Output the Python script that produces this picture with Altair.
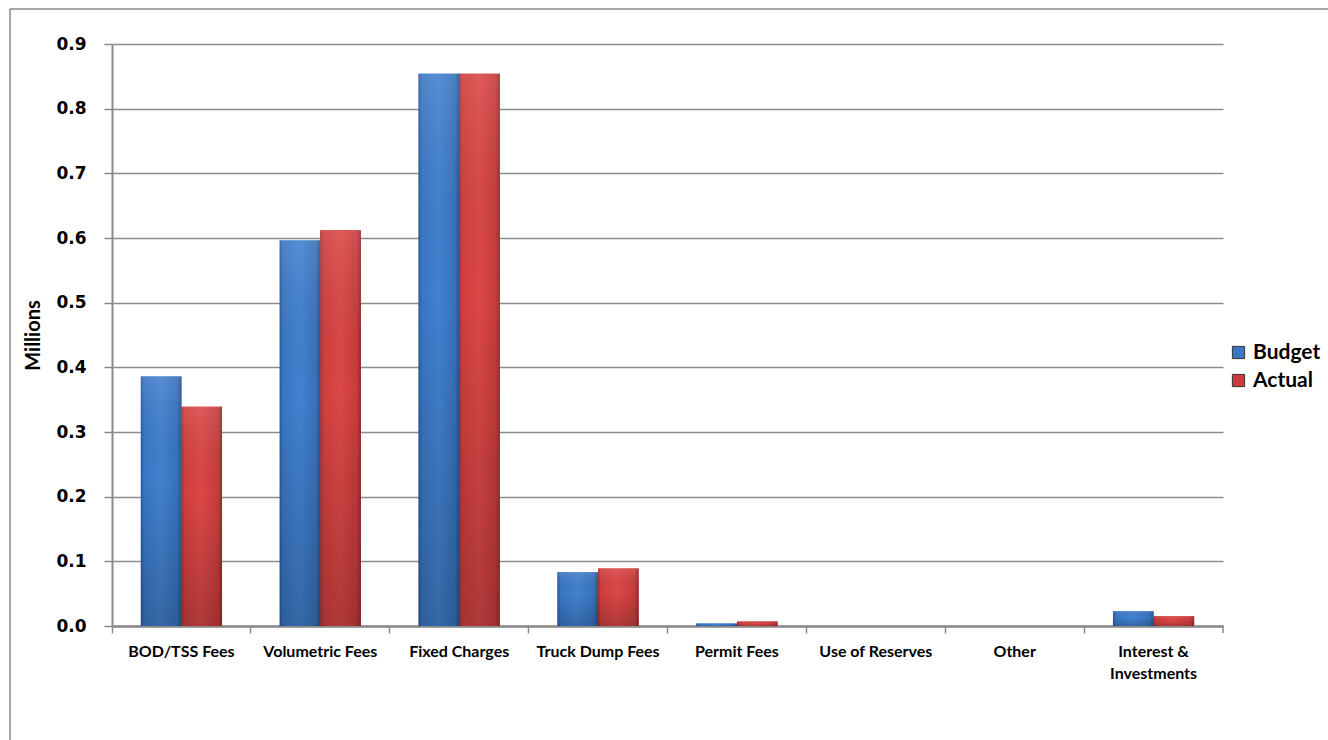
import altair as alt
import pandas as pd

categories = ["BOD/TSS Fees", "Volumetric Fees", "Fixed Charges", "Truck Dump Fees",
              "Permit Fees", "Use of Reserves", "Other", "Interest & Investments"]
series_names = ["Budget", "Actual"]
budget = [0.386, 0.596, 0.854, 0.083, 0.004, 0.0, 0.0, 0.023]
actual = [0.339, 0.612, 0.854, 0.089, 0.007, 0.0, 0.0, 0.015]
y_ticks = [0.0, 0.1, 0.2, 0.3, 0.4, 0.5, 0.6, 0.7, 0.8, 0.9]

rows = []
for c, b, a in zip(categories, budget, actual):
    rows.append({"category": c, "series": "Budget", "value": b})
    rows.append({"category": c, "series": "Actual", "value": a})
df = pd.DataFrame(rows)

W, H = 1111, 582
PL, PT = 112, 44

x_enc = alt.X(
    "category:N", sort=categories, title=None,
    scale=alt.Scale(paddingInner=0, paddingOuter=0),
    axis=alt.Axis(
        bandPosition=0, labelAngle=0, labelOverlap=False,
        labelFont="Lato", labelFontWeight="bold", labelFontSize=16, labelColor="black",
        labelPadding=10, labelLineHeight=22,
        labelExpr="datum.label == 'Interest & Investments' ? ['Interest &', 'Investments'] : datum.label",
        tickSize=7, tickColor="#8a8a8a", tickWidth=1.5,
        domainColor="#8a8a8a", domainWidth=2.5, grid=False,
    ),
)
xo_enc = alt.XOffset("series:N", sort=series_names,
                     scale=alt.Scale(domain=series_names, paddingOuter=0.711, paddingInner=0))
y_enc = alt.Y(
    "value:Q", title="Millions",
    scale=alt.Scale(domain=[0, 0.9], nice=False),
    axis=alt.Axis(
        values=y_ticks, format=".1f",
        labelFont="DejaVu Sans", labelFontWeight="bold", labelFontSize=17, labelColor="black",
        labelPadding=18, tickSize=8, tickColor="#8a8a8a", tickWidth=1.5,
        domainColor="#8a8a8a", domainWidth=2,
        gridColor="#8c8c8c", gridWidth=1.5,
        titleFont="Lato", titleFontWeight="bold", titleFontSize=20, titleColor="black",
        titlePadding=12,
    ),
)

base = alt.Chart(df)

legend_layer = base.mark_bar().encode(
    x=x_enc, xOffset=xo_enc, y=y_enc,
    color=alt.Color(
        "series:N", sort=series_names,
        scale=alt.Scale(domain=series_names, range=["#3b76c2", "#cc3c3c"]),
        legend=alt.Legend(
            title=None, orient="none", legendX=1116, legendY=298,
            symbolType="square", symbolSize=150, symbolStrokeWidth=1,
            symbolStrokeColor="#333", symbolOpacity=1,
            labelFont="Lato", labelFontWeight="bold", labelFontSize=21, labelColor="black",
            rowPadding=6, labelOffset=4, padding=0,
        ),
    ),
)

blue_grad = alt.Gradient(
    gradient="linear", x1=0, x2=1, y1=0, y2=0,
    stops=[
        alt.GradientStop(color="#2b5a98", offset=0),
        alt.GradientStop(color="#3a76c3", offset=0.08),
        alt.GradientStop(color="#4282d1", offset=0.5),
        alt.GradientStop(color="#3871ba", offset=0.9),
        alt.GradientStop(color="#29538c", offset=1),
    ],
)
red_grad = alt.Gradient(
    gradient="linear", x1=0, x2=1, y1=0, y2=0,
    stops=[
        alt.GradientStop(color="#a23131", offset=0),
        alt.GradientStop(color="#cf3f3f", offset=0.08),
        alt.GradientStop(color="#dc4747", offset=0.5),
        alt.GradientStop(color="#c63c3c", offset=0.9),
        alt.GradientStop(color="#982c2c", offset=1),
    ],
)
shade_grad = alt.Gradient(
    gradient="linear", x1=0, x2=0, y1=0, y2=1,
    stops=[
        alt.GradientStop(color="rgba(255,255,255,0.10)", offset=0),
        alt.GradientStop(color="rgba(0,0,0,0.00)", offset=0.4),
        alt.GradientStop(color="rgba(0,0,0,0.20)", offset=1),
    ],
)

blue_layer = base.transform_filter(alt.datum.series == "Budget").mark_bar(fill=blue_grad).encode(
    x=x_enc, xOffset=xo_enc, y=y_enc)
red_layer = base.transform_filter(alt.datum.series == "Actual").mark_bar(fill=red_grad).encode(
    x=x_enc, xOffset=xo_enc, y=y_enc)
shade_layer = base.mark_bar(fill=shade_grad).encode(x=x_enc, xOffset=xo_enc, y=y_enc)

frame_df = pd.DataFrame({"k": [0]})
frame_left = alt.Chart(frame_df).mark_rule(color="#8a8a8a", strokeWidth=1.5).encode(
    x=alt.value(10 - PL), y=alt.value(9 - PT), y2=alt.value(740 - PT + 5))
frame_top = alt.Chart(frame_df).mark_rule(color="#8a8a8a", strokeWidth=1.5).encode(
    x=alt.value(10 - PL), x2=alt.value(1328 - PL + 5), y=alt.value(9 - PT))
end_tick = alt.Chart(frame_df).mark_rule(color="#8a8a8a", strokeWidth=1.5).encode(
    x=alt.value(W), y=alt.value(H), y2=alt.value(H + 7))

chart = alt.layer(
    legend_layer, blue_layer, red_layer, shade_layer, frame_left, frame_top, end_tick
).properties(
    width=W, height=H,
    autosize=alt.AutoSizeParams(type="none"),
    padding={"left": PL, "top": PT, "right": 1328 - PL - W, "bottom": 740 - PT - H},
).configure_view(stroke=None)

chart.save("out.html", embed_options={"renderer": "svg", "actions": False})
